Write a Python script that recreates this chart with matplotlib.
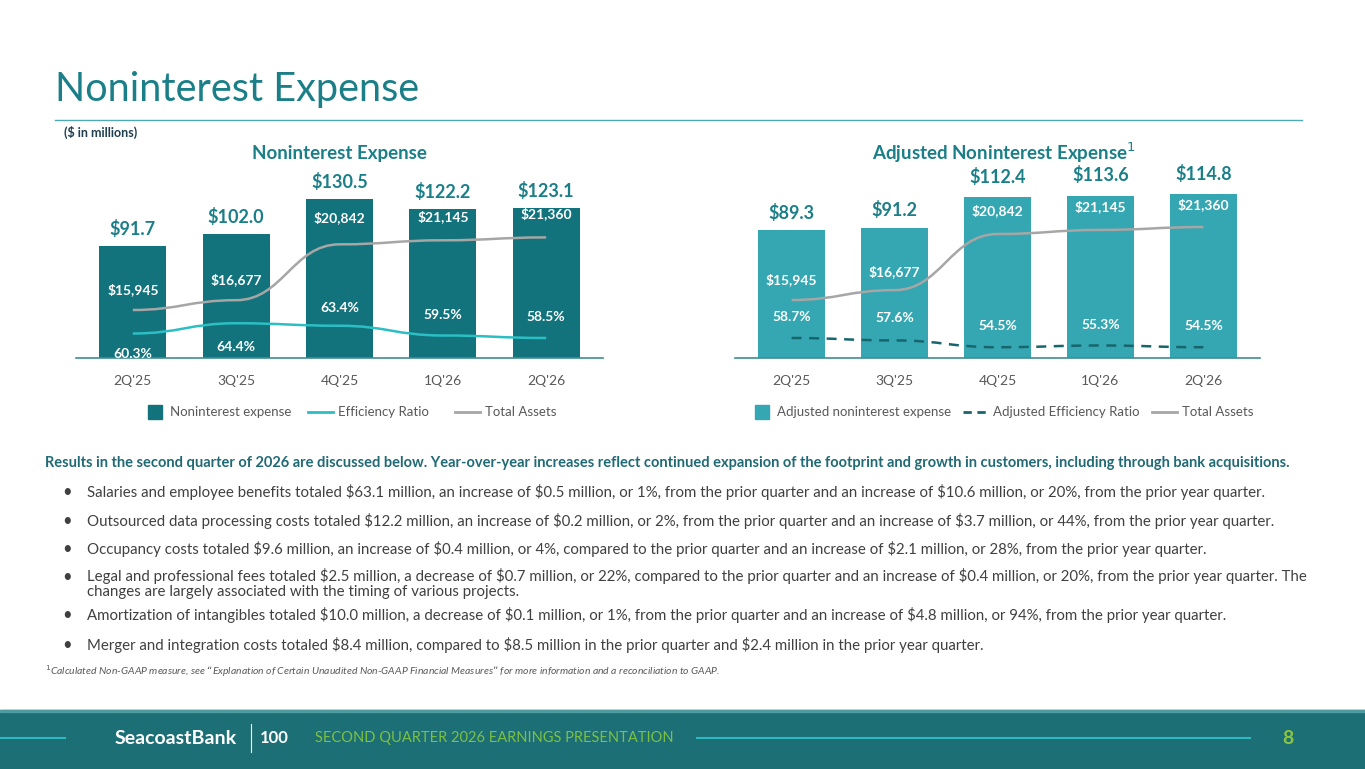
import numpy as np
import matplotlib.pyplot as plt
from matplotlib.path import Path
from matplotlib.patches import PathPatch, Rectangle
from matplotlib.lines import Line2D

plt.rcParams['font.family'] = ['Lato', 'DejaVu Sans']

quarters = ["2Q'25", "3Q'25", "4Q'25", "1Q'26", "2Q'26"]
nonint_exp = [91.7, 102.0, 130.5, 122.2, 123.1]
eff_ratio = [60.3, 64.4, 63.4, 59.5, 58.5]
adj_exp = [89.3, 91.2, 112.4, 113.6, 114.8]
adj_eff_ratio = [58.7, 57.6, 54.5, 55.3, 54.5]
total_assets = [15945, 16677, 20842, 21145, 21360]

bullets = [
    "Salaries and employee benefits totaled $63.1 million, an increase of $0.5 million, or 1%, from the prior quarter and an increase of $10.6 million, or 20%, from the prior year quarter.",
    "Outsourced data processing costs totaled $12.2 million, an increase of $0.2 million, or 2%, from the prior quarter and an increase of $3.7 million, or 44%, from the prior year quarter.",
    "Occupancy costs totaled $9.6 million, an increase of $0.4 million, or 4%, compared to the prior quarter and an increase of $2.1 million, or 28%, from the prior year quarter.",
    "Legal and professional fees totaled $2.5 million, a decrease of $0.7 million, or 22%, compared to the prior quarter and an increase of $0.4 million, or 20%, from the prior year quarter. The\nchanges are largely associated with the timing of various projects.",
    "Amortization of intangibles totaled $10.0 million, a decrease of $0.1 million, or 1%, from the prior quarter and an increase of $4.8 million, or 94%, from the prior year quarter.",
    "Merger and integration costs totaled $8.4 million, compared to $8.5 million in the prior quarter and $2.4 million in the prior year quarter.",
]

W, H = 1365, 769
fig = plt.figure(figsize=(W / 100, H / 100), dpi=100)
fig.patch.set_facecolor('white')

TEAL = '#13737C'
LTEAL = '#35A7B2'
CYAN = '#2BBFC4'
GRAY = '#A6A6A6'
TITLE = '#1B7F88'
TXT = '#404040'


def px_axes(x0, x1, ytop, ybot):
    return fig.add_axes([x0 / W, 1 - ybot / H, (x1 - x0) / W, (ybot - ytop) / H])


def smooth(ax, xs, ys, **kw):
    # cubic bezier through the points, flat tangents
    verts = [(xs[0], ys[0])]
    codes = [Path.MOVETO]
    for i in range(len(xs) - 1):
        dx = (xs[i + 1] - xs[i]) * 0.45
        verts += [(xs[i] + dx, ys[i]), (xs[i + 1] - dx, ys[i + 1]), (xs[i + 1], ys[i + 1])]
        codes += [Path.CURVE4] * 3
    ax.add_patch(PathPatch(Path(verts, codes), fill=False, **kw))


def chart(x0, x1, bars, bar_col, bar_max, eff, eff_lim, assets_lim, eff_style,
          title, top_off, asset_off, pct_off, legend_names, legend_x):
    ax = px_axes(x0, x1, 158, 358)
    x = np.arange(len(quarters))
    ax.bar(x, bars, width=0.65, color=bar_col)
    ax.set_xlim(-0.55, len(quarters) - 0.45)
    ax.set_ylim(0, bar_max)
    for s in ['top', 'right', 'left']:
        ax.spines[s].set_visible(False)
    ax.spines['bottom'].set_color('#3E8E96')
    ax.spines['bottom'].set_linewidth(1.2)
    ax.set_yticks([])
    ax.set_xticks(x, quarters)
    ax.tick_params(axis='x', length=0, pad=12, labelsize=10, labelcolor='#595959')
    for i, v in enumerate(bars):
        ax.annotate(f'${v:.1f}', (i, v), xytext=(0, top_off[i]), textcoords='offset points',
                    ha='center', va='bottom', fontsize=13, fontweight='bold', color=TITLE)
    ax2 = ax.twinx()
    ax2.set_ylim(*eff_lim)
    ax2.axis('off')
    if eff_style == 'solid':
        smooth(ax2, x, eff, color=CYAN, lw=1.8)
    else:
        smooth(ax2, x, eff, color='#17666E', lw=1.8, linestyle=(0, (4, 3)))
    for i, v in enumerate(eff):
        ax2.annotate(f'{v:.1f}%', (i, v), xytext=(0, pct_off[i]), textcoords='offset points',
                     ha='center', va='center', fontsize=10, fontweight='bold', color='white')
    ax3 = ax.twinx()
    ax3.set_ylim(*assets_lim)
    ax3.axis('off')
    smooth(ax3, x, total_assets, color=GRAY, lw=1.8)
    for i, v in enumerate(total_assets):
        ax3.annotate(f'${v:,}', (i, v), xytext=(0, asset_off[i]), textcoords='offset points',
                     ha='center', va='center', fontsize=10, fontweight='bold', color='white')
    fig.text((x0 + x1) / 2 / W, 1 - 153 / H, title, ha='center', va='center', fontsize=13.5,
             fontweight='bold', color=TITLE)
    # legend
    lx = legend_x
    y = 1 - 412 / H
    fig.patches.append(Rectangle((lx[0] / W, y - 7 / H), 14 / W, 14 / H, color=bar_col,
                                 transform=fig.transFigure))
    fig.text((lx[0] + 22) / W, y, legend_names[0], va='center', fontsize=9.5, color='#595959')
    ls = '-' if eff_style == 'solid' else (0, (3, 2))
    lc = CYAN if eff_style == 'solid' else '#17666E'
    fig.lines.append(Line2D([lx[1] / W, (lx[1] + 25) / W], [y, y], color=lc, lw=2,
                            linestyle=ls, transform=fig.transFigure))
    fig.text((lx[1] + 30) / W, y, legend_names[1], va='center', fontsize=9.5, color='#595959')
    fig.lines.append(Line2D([lx[2] / W, (lx[2] + 25) / W], [y, y], color=GRAY, lw=2,
                            transform=fig.transFigure))
    fig.text((lx[2] + 30) / W, y, 'Total Assets', va='center', fontsize=9.5, color='#595959')


chart(76, 603, nonint_exp, TEAL, 200 / 1.217, eff_ratio, (50.5, 130.5), (12364, 27284), 'solid',
      'Noninterest Expense', [6, 6, 6, 6, 6], [15, 15, 19, 17, 17], [-15, -17, 13, 15, 15],
      ['Noninterest expense', 'Efficiency Ratio', 'Total Assets'], [148, 308, 455])
chart(735, 1260, adj_exp, LTEAL, 200 / 1.43, adj_eff_ratio, (58.7 - 20 / 2.2, 58.7 + 180 / 2.2),
      (11642, 26482), 'dashed', '', [6, 6, 8, 8, 8],
      [15, 13, 17, 17, 16], [15, 16, 15, 15, 15],
      ['Adjusted noninterest expense', 'Adjusted Efficiency Ratio', 'Total Assets'], [755, 963, 1152])

fig.text(872 / W, 1 - 153 / H, 'Adjusted Noninterest Expense$^{1}$', ha='left', va='center',
         fontsize=13.5, fontweight='bold', color=TITLE)

# page header
fig.text(55 / W, 1 - 90 / H, 'Noninterest Expense', fontsize=28.5, color=TITLE, va='center')
fig.lines.append(Line2D([55 / W, 1302 / W], [1 - 120 / H] * 2, color='#4FAAB3', lw=1,
                        transform=fig.transFigure))
fig.text(64 / W, 1 - 132 / H, '($ in millions)', fontsize=9, fontweight='bold', color='#1F3F4F',
         va='center')

fig.text(45 / W, 1 - 463 / H,
         'Results in the second quarter of 2026 are discussed below. Year-over-year increases reflect '
         'continued expansion of the footprint and growth in customers, including through bank acquisitions.',
         fontsize=10.5, fontweight='bold', color='#1F6A75', va='center')
ys = [492, 521, 549, 577, 615, 645]
for yy, b in zip(ys, bullets):
    fig.text(62 / W, 1 - yy / H, '\u2022', fontsize=12, color=TXT, va='center')
    if '\n' in b:
        fig.text(87 / W, 1 - (yy - 9) / H, b, fontsize=10.8, color=TXT, va='top', linespacing=1.05)
    else:
        fig.text(87 / W, 1 - yy / H, b, fontsize=10.8, color=TXT, va='center')
fig.text(45 / W, 1 - 671 / H,
         '$^{1}$Calculated Non-GAAP measure, see \u201cExplanation of Certain Unaudited Non-GAAP Financial '
         'Measures\u201d for more information and a reconciliation to GAAP.',
         fontsize=7.5, style='italic', color='#595959', va='center')

# footer band
fig.patches.append(Rectangle((0, 0), 1, 59 / H, color='#1C6F75', transform=fig.transFigure, zorder=0))
fig.patches.append(Rectangle((0, 57 / H), 1, 2 / H, color='#4E9CA0', transform=fig.transFigure))
fy = 1 - 738 / H
fig.lines.append(Line2D([0, 65 / W], [fy, fy], color='#2FB8C0', lw=1.5, transform=fig.transFigure))
fig.lines.append(Line2D([697 / W, 1250 / W], [fy, fy], color='#2FB8C0', lw=1.5, transform=fig.transFigure))
fig.text(115 / W, fy, 'SeacoastBank', fontsize=14, color='white', va='center', fontweight='bold')
fig.lines.append(Line2D([251 / W, 251 / W], [fy - 14 / H, fy + 14 / H], color='white', lw=0.8,
                        transform=fig.transFigure))
fig.text(260 / W, fy, '100', fontsize=12, color='white', va='center', fontweight='bold')
fig.text(315 / W, fy, 'SECOND QUARTER 2026 EARNINGS PRESENTATION', fontsize=10.5, color='#7CC242',
         va='center')
fig.text(1288 / W, fy, '8', fontsize=14, color='#8CC63F', va='center', ha='center', fontweight='bold')

fig.savefig('out.png', dpi=100)
